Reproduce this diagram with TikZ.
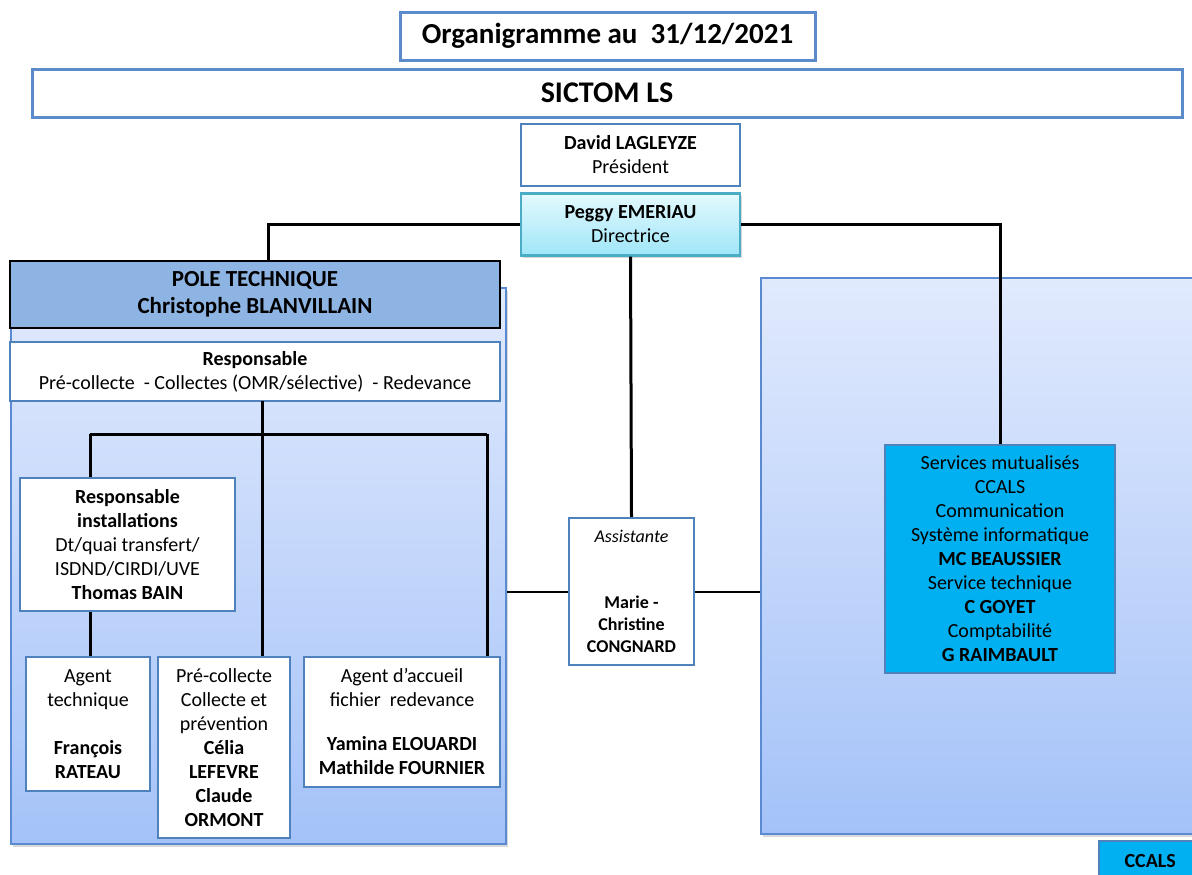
\documentclass[tikz,border=0pt]{standalone}
\usepackage{fontspec}
\setmainfont{Carlito}
\usetikzlibrary{positioning,shadows}

\definecolor{boxblue}{HTML}{4F81BD}
\definecolor{titleblue}{HTML}{5B8BCB}
\definecolor{paneltop}{HTML}{E1EAFD}
\definecolor{panelbot}{HTML}{A4C2F8}
\definecolor{panelline}{HTML}{5A8AD2}
\definecolor{headfill}{HTML}{8EB4E3}
\definecolor{dirtop}{HTML}{E4F9FE}
\definecolor{dirbot}{HTML}{9FE6F8}
\definecolor{dirline}{HTML}{4BACC6}
\definecolor{servfill}{HTML}{00B0F0}

\begin{document}
\begin{tikzpicture}[x=0.5pt,y=-0.5pt,
    box/.style={draw=boxblue,line width=1.2pt,fill=white,align=center,inner sep=0pt,
        font=\fontsize{10}{12}\selectfont},
    titlebox/.style={draw=titleblue,line width=1.5pt,fill=white,align=center,inner sep=0pt,
        font=\fontsize{14.5}{18}\selectfont\bfseries},
    panel/.style={draw=panelline,line width=1pt,top color=paneltop,bottom color=panelbot,
        anchor=north west,inner sep=0pt,
        drop shadow={opacity=0.3,shadow xshift=1pt,shadow yshift=-1.5pt}},
    link/.style={line width=1.5pt},
    thinlink/.style={line width=1pt}]
\clip (0,0) rectangle (1192,874);

% titles
\node[titlebox,minimum width=207.5pt,minimum height=24pt] (title) at (607.5,36) {Organigramme au\ \ 31/12/2021};
\node[titlebox,minimum width=575pt,minimum height=24pt,font=\fontsize{15}{18}\selectfont\bfseries] (sictom) at (607,93) {SICTOM LS};

% direction
\node[box,minimum width=109.5pt,minimum height=31pt] (david) at (630.5,155)
    {\textbf{David LAGLEYZE}\\Président};
\node[box,draw=dirline,top color=dirtop,bottom color=dirbot,minimum width=109.5pt,minimum height=31pt,
    below=2.5pt of david,drop shadow={opacity=0.3,shadow xshift=1pt,shadow yshift=-1.5pt}] (peggy)
    {\textbf{Peggy EMERIAU}\\Directrice};

% panels
\node[panel,minimum width=247.5pt,minimum height=278pt] (polepanel) at (10,287) {};
\node[panel,minimum width=240pt,minimum height=278pt] (servpanel) at (760,277) {};

% pole technique
\node[box,draw=black,fill=headfill,minimum width=245pt,minimum height=33.5pt,
    font=\fontsize{11.5}{13.5}\selectfont\bfseries] (pole) at (255,294.5)
    {POLE TECHNIQUE\\Christophe BLANVILLAIN};
\node[box,minimum width=245pt,minimum height=29.5pt] (resp) at (255,371.5)
    {\textbf{Responsable}\\Pré-collecte\ \ - Collectes (OMR/sélective)\ \ - Redevance};
\node[box,minimum width=107.5pt,minimum height=66.5pt] (install) at (127.5,544.5)
    {\textbf{Responsable}\\\textbf{installations}\\Dt/quai transfert/\\ISDND/CIRDI/UVE\\\textbf{Thomas BAIN}};
\node[box,minimum width=62pt,minimum height=67pt] (agent) at (88,724)
    {Agent\\technique\\[12pt]\textbf{François}\\\textbf{RATEAU}};
\node[box,minimum width=66pt,minimum height=90.5pt] (collecte) at (224,747.5)
    {Pré-collecte\\Collecte et\\prévention\\\textbf{Célia}\\\textbf{LEFEVRE}\\\textbf{Claude}\\\textbf{ORMONT}};
\node[box,minimum width=98pt,minimum height=65pt] (accueil) at (402,722)
    {Agent d’accueil\\fichier\ \ redevance\\[10pt]\textbf{Yamina ELOUARDI}\\\textbf{Mathilde FOURNIER}};

% assistante
\node[box,minimum width=62.5pt,minimum height=73.5pt,font=\fontsize{9}{11}\selectfont] (assist) at (631.5,591.5)
    {\textit{Assistante}\\[22pt]\textbf{Marie -}\\\textbf{Christine}\\\textbf{CONGNARD}};

% services mutualises
\node[box,fill=servfill,minimum width=115pt,minimum height=114pt] (serv) at (1000,559)
    {Services mutualisés\\CCALS\\Communication\\Système informatique\\\textbf{MC BEAUSSIER}\\
     Service technique\\\textbf{C GOYET}\\Comptabilité\\\textbf{G RAIMBAULT}};
\node[box,fill=servfill,minimum width=51pt,minimum height=20pt,anchor=north west] (ccals) at (1098,840)
    {\textbf{CCALS}};

% connectors
\coordinate (trunk) at (262,401);
\coordinate (busl) at (90,434);
\coordinate (busr) at (487,434);
\draw[link] (peggy.west) -| ([xshift=6.5pt]pole.north);
\draw[link] (peggy.east) -| (serv.north);
\draw[link] (peggy.south) -- (assist.north);
\draw[thinlink] (assist.west) -- (assist.west -| polepanel.east);
\draw[thinlink] (assist.east) -- (assist.east -| servpanel.west);
\draw[link] (trunk) -- (trunk |- collecte.north);
\draw[link] (busl) -- (busr);
\draw[link] (busl) -- (busl |- install.north);
\draw[link] (busl |- install.south) -- (busl |- agent.north);
\draw[link] (busr) -- (busr |- accueil.north);
\end{tikzpicture}
\end{document}
